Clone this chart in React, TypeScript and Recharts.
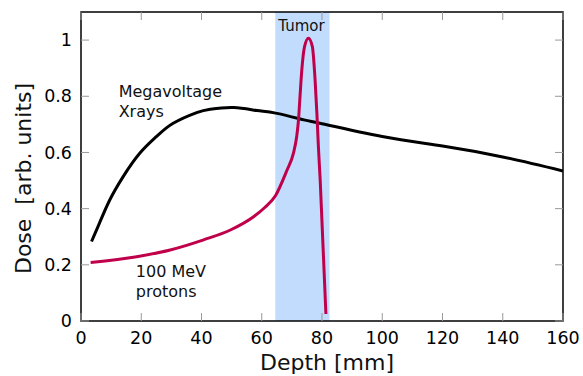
import {
  LineChart,
  Line,
  XAxis,
  YAxis,
  ReferenceArea,
  ReferenceLine,
  ReferenceDot,
  Label,
} from "recharts"

// megavoltage x-rays, depth [mm] -> dose
const xrayDepth = [3.5, 6.2, 9.5, 14, 19.5, 25.1, 30.6, 38.4, 42.9, 50.7, 58.4, 64.6, 74, 80, 100, 120, 140, 160]
const xrayDose = [0.283, 0.35, 0.43, 0.514, 0.597, 0.657, 0.704, 0.742, 0.754, 0.76, 0.749, 0.74, 0.716, 0.702, 0.657, 0.623, 0.584, 0.534]

// 100 MeV protons (Bragg peak)
const protonDepth = [3.2, 18.5, 29.6, 40.7, 49.6, 57.4, 61, 64.6, 68.3, 70.5, 71.6, 72.2, 72.7, 73.3, 74.2, 75.5, 76.8, 77.7, 78.3, 78.8, 79.4, 81.3]
const protonDose = [0.208, 0.229, 0.253, 0.289, 0.324, 0.372, 0.404, 0.447, 0.535, 0.597, 0.657, 0.716, 0.799, 0.894, 0.977, 1.007, 0.977, 0.859, 0.74, 0.621, 0.502, 0.025]

const xTicks = [0, 20, 40, 60, 80, 100, 120, 140, 160]
const yTicks = [0, 0.2, 0.4, 0.6, 0.8, 1]
const xDomain = [0, 160]
const yDomain = [0, 1.1]
const tumorRange = [64.5, 82.5]

const FONT = "DejaVu Sans"
const TICK_X = 2.66 // inward tick length in x units (~8px)
const TICK_Y = 0.0285 // inward tick length in y units (~8px)

const xrayData = xrayDepth.map((d, i) => ({ depth: d, dose: xrayDose[i] }))
const protonData = protonDepth.map((d, i) => ({ depth: d, dose: protonDose[i] }))

const Note = ({ viewBox, lines, size = 16, anchor = "start" }: any) => {
  const { x, y } = viewBox
  return (
    <text x={x} y={y} fontFamily={FONT} fontSize={size} fill="#111" textAnchor={anchor}>
      {lines.map((l: string, i: number) => (
        <tspan key={i} x={x} dy={i === 0 ? 0 : 20}>
          {l}
        </tspan>
      ))}
    </text>
  )
}

export default function App() {
  return (
    <div style={{ position: "absolute", left: 0, top: 0, background: "#fff" }}>
      <LineChart width={583} height={376} margin={{ top: 12, right: 20, left: 0, bottom: 0 }}>
        <ReferenceArea
          x1={tumorRange[0]}
          x2={tumorRange[1]}
          y1={yDomain[0]}
          y2={yDomain[1]}
          fill="#c2dcfd"
          fillOpacity={1}
          stroke="none"
        />
        <XAxis
          dataKey="depth"
          type="number"
          domain={xDomain}
          ticks={xTicks}
          axisLine={false}
          tickLine={false}
          tickSize={0}
          tickMargin={11}
          height={55}
          allowDataOverflow
          tick={{ fontFamily: FONT, fontSize: 17.5, fill: "#000" }}
        >
          <Label
            content={({ viewBox }: any) => (
              <text
                x={viewBox.x + viewBox.width / 2 + 5}
                y={viewBox.y + 49}
                textAnchor="middle"
                fontFamily={FONT}
                fontSize={22}
                fill="#111"
              >
                Depth [mm]
              </text>
            )}
          />
        </XAxis>
        <YAxis
          type="number"
          domain={yDomain}
          ticks={yTicks}
          axisLine={false}
          tickLine={false}
          tickSize={0}
          tickMargin={9}
          width={81}
          allowDataOverflow
          tick={{ fontFamily: FONT, fontSize: 17.5, fill: "#000" }}
        >
          <Label
            content={({ viewBox }: any) => {
              const cx = viewBox.x + 23
              const cy = viewBox.y + viewBox.height / 2 + 12
              return (
                <text
                  x={cx}
                  y={cy}
                  transform={`rotate(-90 ${cx} ${cy})`}
                  textAnchor="middle"
                  dominantBaseline="central"
                  fontFamily={FONT}
                  fontSize={22}
                  fill="#111"
                  style={{ whiteSpace: "pre" }}
                >
                  {"Dose  [arb. units]"}
                </text>
              )
            }}
          />
        </YAxis>

        {xTicks.map(t => (
          <ReferenceLine
            key={"xb" + t}
            segment={[{ x: t, y: yDomain[0] }, { x: t, y: yDomain[0] + TICK_Y }]}
            stroke="#999"
            strokeWidth={1}
          />
        ))}
        {xTicks.map(t => (
          <ReferenceLine
            key={"xt" + t}
            segment={[{ x: t, y: yDomain[1] }, { x: t, y: yDomain[1] - TICK_Y }]}
            stroke="#999"
            strokeWidth={1}
          />
        ))}
        {yTicks.map(t => (
          <ReferenceLine
            key={"yl" + t}
            segment={[{ x: xDomain[0], y: t }, { x: xDomain[0] + TICK_X, y: t }]}
            stroke="#999"
            strokeWidth={1}
          />
        ))}
        {yTicks.map(t => (
          <ReferenceLine
            key={"yr" + t}
            segment={[{ x: xDomain[1], y: t }, { x: xDomain[1] - TICK_X, y: t }]}
            stroke="#999"
            strokeWidth={1}
          />
        ))}

        <Line
          data={xrayData}
          dataKey="dose"
          type="natural"
          stroke="#000"
          strokeWidth={3}
          dot={false}
          activeDot={false}
          isAnimationActive={false}
        />
        <Line
          data={protonData}
          dataKey="dose"
          type="monotone"
          stroke="#c0004a"
          strokeWidth={3}
          dot={false}
          activeDot={false}
          isAnimationActive={false}
        />

        <ReferenceArea
          x1={xDomain[0]}
          x2={xDomain[1]}
          y1={yDomain[0]}
          y2={yDomain[1]}
          fill="none"
          stroke="#000"
          strokeWidth={1.5}
        />

        <ReferenceDot
          x={12.5}
          y={0.798}
          r={0}
          fill="none"
          stroke="none"
          label={(p: any) => <Note {...p} lines={["Megavoltage", "Xrays"]} />}
        />
        <ReferenceDot
          x={18.2}
          y={0.157}
          r={0}
          fill="none"
          stroke="none"
          label={(p: any) => <Note {...p} lines={["100 MeV", "protons"]} />}
        />
        <ReferenceDot
          x={73.2}
          y={1.033}
          r={0}
          fill="none"
          stroke="none"
          label={(p: any) => <Note {...p} lines={["Tumor"]} size={15} anchor="middle" />}
        />
      </LineChart>
    </div>
  )
}
